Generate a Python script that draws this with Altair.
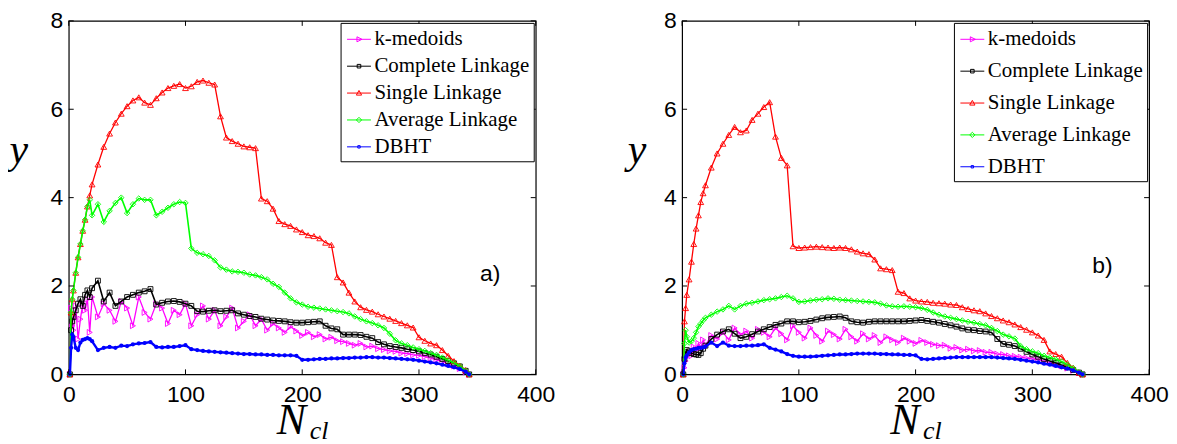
import altair as alt
import pandas as pd

# ---------------- data ----------------
N = [1, 2, 3, 4, 6, 8, 10, 12, 14, 16, 18, 20,
     25, 30, 35, 40, 45, 50, 55, 60, 65, 70,
     75, 80, 85, 90, 95, 100, 105, 110, 115, 120,
     125, 130, 135, 140, 145, 150, 155, 160, 165, 170,
     175, 180, 185, 190, 195, 200, 205, 210, 215, 220,
     225, 230, 235, 240, 245, 250, 255, 260, 265, 270,
     275, 280, 285, 290, 295, 300, 305, 310, 315, 320,
     325, 330, 335, 340,
     343]

SERIES = ["k-medoids", "Complete Linkage", "Single Linkage", "Average Linkage", "DBHT"]
COLORS = ["#ff00ff", "#000000", "#ff0000", "#00ff00", "#0000ff"]
SHAPES = ["triangle-right", "square", "triangle-up", "diamond", "circle"]
SIZES = [34, 24, 34, 30, 18]
LINE_W = [1.3, 1.6, 1.3, 1.6, 2.4]
LEGEND_PATHS = [
    "M-1,0H1M-0.17,-0.21L0.25,0L-0.17,0.21Z",
    "M-1,0H1M-0.15,-0.15H0.15V0.15H-0.15Z",
    "M-1,0H1M-0.22,0.17L0,-0.22L0.22,0.17Z",
    "M-1,0H1M-0.22,0L0,-0.22L0.22,0L0,0.22Z",
    "M-1,0H1M-0.1,-0.1H0.1V0.1H-0.1Z",
]
X_TICKS = [0, 100, 200, 300, 400]
Y_TICKS = [0, 2, 4, 6, 8]

# panel a)
kmed_a = [0, 1.5, 1.1, 1.0, 1.55, 0.8, 1.25, 1.6, 1.45, 1.7, 0.95, 1.75,
          1.3, 1.6, 1.45, 1.2, 1.65, 1.5, 1.1, 1.75, 1.4, 1.25,
          1.6, 1.5, 1.15, 1.45, 1.35, 1.6, 1.1, 1.35, 1.55, 1.25,
          1.45, 1.1, 1.3, 1.5, 1.05, 1.2, 1.35, 1.1, 1.25, 1.0,
          1.15, 1.05, 0.95, 1.08, 0.98, 0.88, 0.95, 0.85, 0.9, 0.8,
          0.84, 0.76, 0.74, 0.7, 0.66, 0.7, 0.62, 0.64, 0.58, 0.56,
          0.53, 0.52, 0.48, 0.47, 0.44, 0.43, 0.4, 0.37, 0.33, 0.29,
          0.24, 0.19, 0.13, 0.06,
          0.0]
complete_a = [0, 1.0, 1.2, 1.3, 1.45, 1.6, 1.7, 1.55, 1.8, 1.9, 1.75, 1.95,
              2.12, 1.65, 1.85, 1.55, 1.65, 1.75, 1.8, 1.85, 1.88, 1.93,
              1.58, 1.62, 1.65, 1.66, 1.64, 1.6, 1.55, 1.43, 1.42, 1.44,
              1.45, 1.43, 1.44, 1.45, 1.38, 1.35, 1.32, 1.3, 1.26, 1.24,
              1.22, 1.21, 1.2, 1.18, 1.17, 1.17, 1.18, 1.19, 1.2, 1.1,
              1.04, 1.02, 0.9, 0.9, 0.9, 0.89, 0.85, 0.82, 0.73, 0.68,
              0.64, 0.62, 0.6, 0.57, 0.55, 0.52, 0.48, 0.45, 0.4, 0.35,
              0.3, 0.25, 0.18, 0.08,
              0.0]
single_a = [0, 1.4, 1.7, 1.9, 2.3, 2.65, 2.95, 3.25, 3.5, 3.8, 4.05, 4.3,
            4.75, 5.15, 5.45, 5.7, 5.9, 6.07, 6.2, 6.27, 6.15, 6.1,
            6.25, 6.38, 6.48, 6.53, 6.57, 6.48, 6.52, 6.62, 6.65, 6.6,
            6.56, 5.84, 5.36, 5.28, 5.22, 5.16, 5.14, 5.12, 3.98, 3.92,
            3.75, 3.47, 3.4, 3.36, 3.28, 3.22, 3.15, 3.13, 3.08, 2.98,
            2.93, 2.2, 2.08, 1.85, 1.65, 1.52, 1.46, 1.42, 1.36, 1.31,
            1.26, 1.21, 1.16, 1.11, 1.06, 0.84, 0.76, 0.7, 0.66, 0.55,
            0.42, 0.3, 0.2, 0.1,
            0.0]
average_a = [0, 1.4, 1.7, 1.9, 2.3, 2.65, 2.95, 3.25, 3.5, 3.8, 3.95, 3.6,
             3.85, 3.45, 3.7, 3.88, 4.0, 3.65, 3.85, 3.98, 3.95, 3.95,
             3.6, 3.68, 3.77, 3.85, 3.9, 3.88, 2.85, 2.75, 2.72, 2.68,
             2.58, 2.42, 2.37, 2.33, 2.32, 2.3, 2.26, 2.24, 2.2, 2.15,
             2.05, 1.98, 1.85, 1.72, 1.63, 1.58, 1.53, 1.51, 1.49, 1.47,
             1.45, 1.43, 1.41, 1.38, 1.31, 1.25, 1.2, 1.16, 1.11, 1.05,
             0.92, 0.77, 0.7, 0.66, 0.61, 0.57, 0.53, 0.48, 0.44, 0.38,
             0.32, 0.26, 0.19, 0.08,
             0.0]
dbht_a = [0, 0.6, 0.9, 0.85, 0.6, 0.55, 0.72, 0.78, 0.8, 0.82, 0.8, 0.75,
          0.55, 0.6, 0.62, 0.6, 0.65, 0.64, 0.68, 0.7, 0.71, 0.73,
          0.62, 0.61, 0.62, 0.62, 0.64, 0.66, 0.57, 0.55, 0.53, 0.52,
          0.51, 0.5, 0.49, 0.48, 0.47, 0.46, 0.46, 0.45, 0.45, 0.44,
          0.44, 0.43, 0.43, 0.43, 0.42, 0.33, 0.33, 0.34, 0.35, 0.35,
          0.36, 0.36, 0.37, 0.37, 0.38, 0.38, 0.39, 0.39, 0.38, 0.38,
          0.37, 0.36, 0.35, 0.34, 0.33, 0.31, 0.29, 0.27, 0.25, 0.22,
          0.19, 0.16, 0.12, 0.06,
          0.0]

# panel b)
kmed_b = [0, 0.15, 0.3, 0.4, 0.5, 0.42, 0.62, 0.55, 0.7, 0.6, 0.78, 0.65,
          0.88, 0.8, 0.95, 0.78, 1.05, 0.9, 0.98, 0.82, 1.02, 0.95,
          0.85, 1.05, 0.92, 0.78, 1.1, 0.95, 0.82, 1.05, 0.88, 0.75,
          0.98, 0.9, 0.8, 1.02, 0.85, 0.75, 0.92, 0.8, 0.88, 0.72,
          0.85, 0.78, 0.72, 0.82, 0.75, 0.7, 0.77, 0.72, 0.68, 0.65,
          0.66, 0.59, 0.61, 0.55, 0.57, 0.53, 0.54, 0.5, 0.5, 0.46,
          0.45, 0.42, 0.41, 0.39, 0.37, 0.35, 0.33, 0.3, 0.27, 0.23,
          0.19, 0.14, 0.09, 0.04,
          0.0]
complete_b = [0, 0.35, 0.5, 0.55, 0.52, 0.48, 0.46, 0.45, 0.44, 0.48, 0.58, 0.65,
              0.8, 0.9, 0.97, 1.02, 0.92, 0.82, 0.85, 0.91, 0.97, 1.02,
              1.07, 1.12, 1.15, 1.2, 1.2, 1.18, 1.19, 1.21, 1.24, 1.27,
              1.29, 1.3, 1.31, 1.28, 1.2, 1.18, 1.17, 1.19, 1.2, 1.2,
              1.2, 1.2, 1.2, 1.2, 1.21, 1.22, 1.23, 1.21, 1.19, 1.17,
              1.14, 1.11, 1.08, 1.04, 1.01, 1.0, 0.98, 0.97, 0.95, 0.8,
              0.69, 0.67, 0.64, 0.58, 0.51, 0.45, 0.4, 0.35, 0.3, 0.26,
              0.21, 0.16, 0.1, 0.04,
              0.0]
single_b = [0, 1.2, 1.5, 1.8, 2.15, 2.55, 2.95, 3.3, 3.6, 3.9, 4.1, 4.28,
            4.68, 5.0, 5.22, 5.42, 5.6, 5.48, 5.52, 5.76, 5.9, 6.05,
            6.16, 5.38, 4.9, 4.73, 2.9, 2.86, 2.87, 2.88, 2.89, 2.88,
            2.87, 2.86, 2.87, 2.86, 2.83, 2.78, 2.74, 2.72, 2.6, 2.4,
            2.38, 2.36, 1.87, 1.84, 1.72, 1.67, 1.65, 1.64, 1.62, 1.61,
            1.6, 1.58, 1.57, 1.52, 1.48, 1.45, 1.43, 1.38, 1.32, 1.27,
            1.22, 1.18, 1.13, 1.07, 1.01, 0.95, 0.88, 0.78, 0.52, 0.46,
            0.4, 0.26, 0.15, 0.04,
            0.0]
average_b = [0, 0.7, 1.0, 0.85, 0.72, 0.75, 0.82, 0.95, 1.08, 1.15, 1.22, 1.28,
             1.35, 1.42, 1.47, 1.55, 1.47, 1.55, 1.6, 1.62, 1.65, 1.68,
             1.7, 1.72, 1.75, 1.78, 1.72, 1.64, 1.65, 1.67, 1.69, 1.7,
             1.72, 1.71, 1.69, 1.68, 1.67, 1.66, 1.65, 1.64, 1.63, 1.6,
             1.56, 1.54, 1.53, 1.54, 1.53, 1.52, 1.5, 1.46, 1.4, 1.35,
             1.31, 1.28, 1.25, 1.22, 1.19, 1.17, 1.14, 1.11, 1.05, 0.98,
             0.9, 0.86, 0.81, 0.64, 0.57, 0.52, 0.48, 0.42, 0.38, 0.34,
             0.29, 0.22, 0.14, 0.05,
             0.0]
dbht_b = [0, 0.25, 0.38, 0.43, 0.5, 0.55, 0.57, 0.58, 0.6, 0.6, 0.61, 0.63,
          0.72, 0.64, 0.72, 0.65, 0.64, 0.64, 0.65, 0.65, 0.66, 0.68,
          0.6, 0.56, 0.52, 0.46, 0.42, 0.4, 0.4, 0.4, 0.41, 0.42,
          0.43, 0.44, 0.45, 0.45, 0.46, 0.47, 0.47, 0.47, 0.47, 0.46,
          0.46, 0.45, 0.45, 0.44, 0.44, 0.43, 0.35, 0.34, 0.35, 0.36,
          0.37, 0.38, 0.39, 0.39, 0.39, 0.39, 0.39, 0.39, 0.39, 0.38,
          0.37, 0.36, 0.35, 0.33, 0.31, 0.29, 0.27, 0.24, 0.22, 0.19,
          0.16, 0.13, 0.09, 0.04,
          0.0]

PANEL_A = [kmed_a, complete_a, single_a, average_a, dbht_a]
PANEL_B = [kmed_b, complete_b, single_b, average_b, dbht_b]

# ---------------- layout ----------------
W, H = 469, 355
SANS = "Liberation Sans"
SERIF = "Liberation Serif"


def build_panel(values, tag, tag_x, tag_y, row_pad, title_x):
    xs = alt.Scale(domain=[0, 400], nice=False, zero=False)
    ys = alt.Scale(domain=[0, 8], nice=False, zero=False)
    xax = alt.Axis(values=X_TICKS, title=None, labelFont=SANS, labelFontSize=23,
                   labelColor="black", labelPadding=9, labelFlush=False,
                   labelOverlap=False, domain=False, ticks=False, tickSize=0,
                   grid=False, format="d")
    yax = alt.Axis(values=Y_TICKS, title="y", labelFont=SANS, labelFontSize=23,
                   labelColor="black", labelPadding=6, labelFlush=False,
                   labelOverlap=False, domain=False, ticks=False, tickSize=0,
                   grid=False, format="d",
                   titleFont=SERIF, titleFontStyle="italic", titleFontWeight="normal",
                   titleFontSize=42, titleColor="black", titleAngle=0,
                   titleAlign="left", titleBaseline="alphabetic",
                   titleX=title_x, titleY=142)

    def xe(f):
        return alt.X(f"{f}:Q", scale=xs, axis=xax)

    def ye(f):
        return alt.Y(f"{f}:Q", scale=ys, axis=yax)

    layers = []
    for name, col, shp, sz, lw, vals in zip(SERIES, COLORS, SHAPES, SIZES, LINE_W, values):
        assert len(vals) == len(N), (name, len(vals))
        df = pd.DataFrame({"N": N, "y": vals})
        base = alt.Chart(df)
        layers.append(base.mark_line(color=col, strokeWidth=lw).encode(x=xe("N"), y=ye("y")))
        filled = shp == "circle"
        layers.append(
            base.mark_point(shape=shp, size=sz, filled=filled, color=col,
                            strokeWidth=0.9, opacity=1)
            .encode(x=xe("N"), y=ye("y"))
        )

    # inward ticks on all four sides
    xt = alt.Chart(pd.DataFrame({"t": X_TICKS}))
    yt = alt.Chart(pd.DataFrame({"t": Y_TICKS}))
    layers += [
        xt.mark_rule(color="black", strokeWidth=1).encode(x=xe("t"), y=alt.value(H), y2=alt.value(H - 5)),
        xt.mark_rule(color="black", strokeWidth=1).encode(x=xe("t"), y=alt.value(0), y2=alt.value(5)),
        yt.mark_rule(color="black", strokeWidth=1).encode(y=ye("t"), x=alt.value(0), x2=alt.value(5)),
        yt.mark_rule(color="black", strokeWidth=1).encode(y=ye("t"), x=alt.value(W), x2=alt.value(W - 5)),
    ]

    # panel tag
    tag_df = pd.DataFrame({"N": [tag_x], "y": [tag_y], "t": [tag]})
    layers.append(
        alt.Chart(tag_df).mark_text(font=SANS, fontSize=23, color="black",
                                    align="center", baseline="middle")
        .encode(x=xe("N"), y=ye("y"), text="t:N")
    )

    # x axis title N_cl
    layers.append(
        alt.Chart(pd.DataFrame({"t": ["N"]})).mark_text(
            font=SERIF, fontStyle="italic", fontSize=44, color="black",
            align="left", baseline="alphabetic")
        .encode(x=alt.value(209), y=alt.value(415), text="t:N")
    )
    layers.append(
        alt.Chart(pd.DataFrame({"t": ["cl"]})).mark_text(
            font=SERIF, fontStyle="italic", fontSize=26, color="black",
            align="left", baseline="alphabetic")
        .encode(x=alt.value(242), y=alt.value(420), text="t:N")
    )

    # legend carrier (invisible marks)
    leg_df = pd.DataFrame({"s": SERIES, "N": [200] * 5, "y": [4] * 5})
    leg = alt.Legend(title=None, orient="top-right", offset=2,
                     strokeColor="black", fillColor="white", padding=4,
                     rowPadding=row_pad, symbolSize=576, symbolStrokeWidth=1,
                     symbolOpacity=1, symbolOffset=2, labelOffset=3,
                     labelFont=SERIF, labelFontSize=21, labelColor="black",
                     labelLimit=400)
    layers.append(
        alt.Chart(leg_df).mark_point(opacity=0, filled=False, size=576)
        .encode(
            x=xe("N"), y=ye("y"),
            color=alt.Color("s:N", scale=alt.Scale(domain=SERIES, range=COLORS), legend=leg),
            shape=alt.Shape("s:N", scale=alt.Scale(domain=SERIES, range=LEGEND_PATHS), legend=leg),
        )
    )

    return alt.layer(*layers).properties(width=W, height=H)


pa = build_panel(PANEL_A, "a)", 361, 2.26, 4, -60)
pb = build_panel(PANEL_B, "b)", 360, 2.45, 9, -55)

chart = (
    alt.hconcat(pa, pb, spacing=71)
    .resolve_scale(color="independent", shape="independent")
    .properties(padding={"left": 0, "top": 0, "right": 0, "bottom": 0})
    .configure_view(stroke="black", strokeWidth=1.2)
)

chart.save("out.html", embed_options={"renderer": "svg", "actions": False})
